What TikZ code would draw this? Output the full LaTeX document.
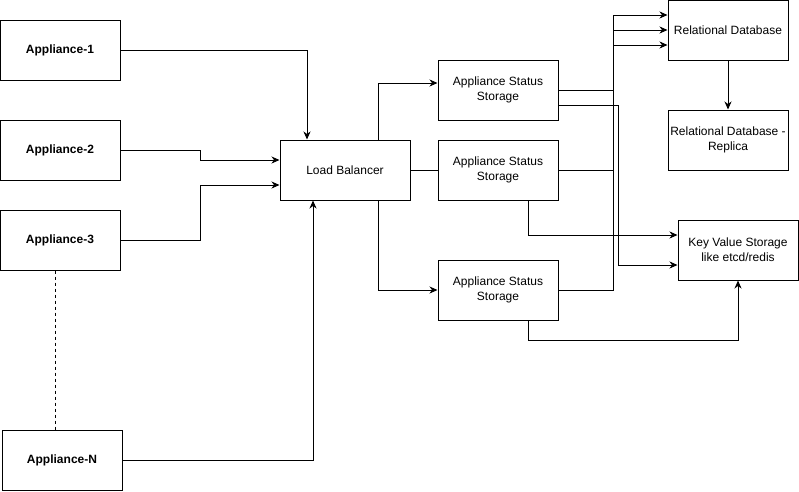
\documentclass[tikz,border=0pt]{standalone}
\usepackage{fontspec}
\setmainfont{Liberation Sans}
\usetikzlibrary{arrows.meta}
\begin{document}
\begin{tikzpicture}[x=1pt,y=-1pt,
  box/.style={draw,line width=1pt,minimum width=120pt,minimum height=60pt,inner sep=0pt,align=center,font=\fontsize{12}{15}\selectfont},
  bbox/.style={box,font=\fontsize{12}{15}\selectfont\bfseries},
  conn/.style={line width=1pt},
  arr/.style={conn,-{Stealth[length=8pt,width=7pt,inset=2.5pt]}}]
\useasboundingbox (0,0) rectangle (799,491);
\node[bbox] (a1) at (60,50) {Appliance-1};
\node[bbox] (a2) at (60,150) {Appliance-2};
\node[bbox] (a3) at (60,240) {Appliance-3};
\node[bbox] (aN) at (62,460) {Appliance-N};
\node[box,minimum width=130pt] (lb) at (345,170) {Load Balancer};
\node[box] (s1) at (498,90) {Appliance Status\\Storage};
\node[box] (s2) at (498,170) {Appliance Status\\Storage};
\node[box] (s3) at (498,290) {Appliance Status\\Storage};
\node[box] (rdb) at (728,30) {Relational Database};
\node[box] (rep) at (728,140) {Relational Database -\\Replica};
\node[box] (kv) at (738,250) {Key Value Storage\\like etcd/redis};
% appliances to load balancer
\draw[arr] (a1.east) -| ([xshift=-38pt]lb.north);
\draw[arr] (a2.east) -- ++(80,0) |- ([yshift=10pt]lb.west);
\draw[arr] (a3.east) -- ++(80,0) |- ([yshift=-15pt]lb.west);
\draw[arr] (aN.east) -| ([xshift=-32pt]lb.south);
\draw[conn,dash pattern=on 3pt off 3pt] ([xshift=-5pt]a3.south) -- ([xshift=-5pt]a3.south |- aN.north);
% load balancer to status storages
\draw[arr] ([xshift=33pt]lb.north) |- ([yshift=7pt]s1.west);
\draw[conn] (lb.east) -- (s2.west);
\draw[arr] ([xshift=33pt]lb.south) |- (s3.west);
% status storages to relational database
\draw[arr] (s1.east) -- ++(55,0) |- ([yshift=-15pt]rdb.west);
\draw[arr] (s2.east) -- ++(55,0) |- (rdb.west);
\draw[arr] (s3.east) -- ++(55,0) |- ([yshift=15pt]rdb.west);
% status storages to key value storage
\draw[arr] ([yshift=-15pt]s1.east) -- ++(60,0) |- ([yshift=-15pt]kv.west);
\draw[arr] ([xshift=30pt]s2.south) |- ([yshift=15pt]kv.west);
\draw[arr] ([xshift=30pt]s3.south) -- ++(0,20) -| (kv.south);
% replica
\draw[arr] (rdb.south) -- (rep.north);
\end{tikzpicture}
\end{document}
